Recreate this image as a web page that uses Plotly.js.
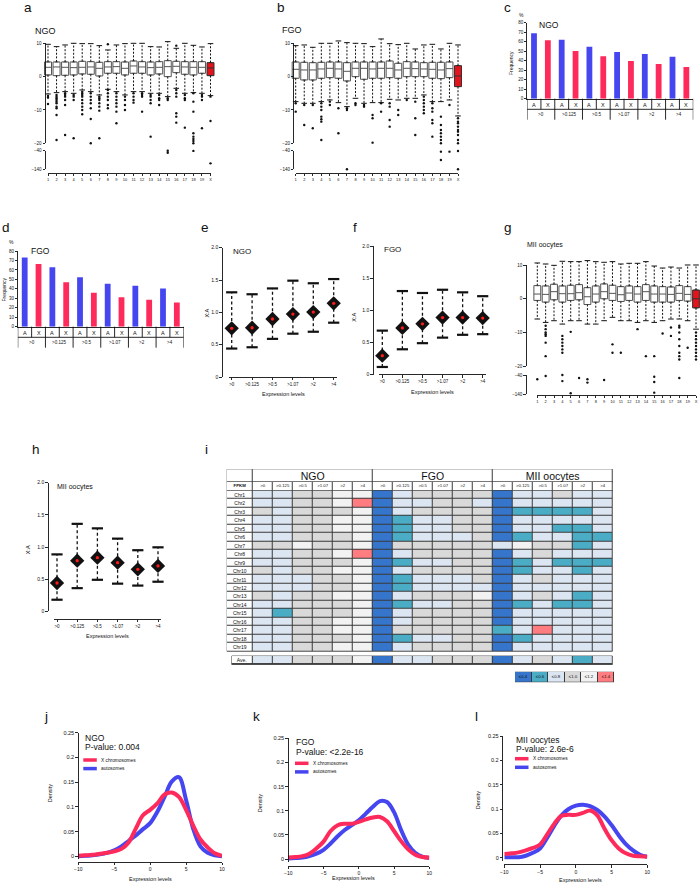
<!DOCTYPE html>
<html>
<head>
<meta charset="utf-8">
<script src="https://cdn.plot.ly/plotly-3.0.1.min.js"></script>
<style>
html,body{margin:0;padding:0;background:#ffffff;}
#chart{width:700px;height:883px;}
</style>
</head>
<body>
<div id="chart"></div>
<script>
// ================= DATA =================
const chromLabels = ['1','2','3','4','5','6','7','8','9','10','11','12','13','14','15','16','17','18','19','X'];
const chromPos = [1,2,3,4,5,6,7,8,9,10,11,12,13,14,15,16,17,18,19,20];

// (a) NGO box statistics
const ngoQ1  = [0.5,0.3,0.4,0.5,0.8,0.7,0.2,1.0,1.0,0.5,1.0,1.0,0.5,0.8,0.0,1.2,0.7,0.5,1.0,0.3];
const ngoMed = [2.8,2.9,2.8,2.7,2.8,2.9,2.5,2.9,3.0,2.5,3.2,2.9,2.7,2.8,3.0,3.1,2.9,2.8,2.8,2.6];
const ngoQ3  = [4.4,4.4,4.4,4.4,4.6,4.5,4.3,4.5,4.5,4.4,4.7,4.5,4.4,4.5,4.8,4.6,4.5,4.5,4.5,4.2];
const ngoLo  = [-5.2,-4.8,-4.5,-5.0,-4.0,-4.5,-5.5,-3.8,-4.5,-5.5,-4.5,-4.5,-5.0,-5.0,-6.0,-3.5,-5.0,-4.8,-5.0,-5.7];
const ngoHi  = [9.7,9.0,9.5,10.0,9.9,9.9,9.3,8.0,9.5,9.9,10.0,10.0,9.0,8.9,10.5,8.5,10.0,9.4,8.9,9.9];
const ngoOut = [[-5.8,-6.3,-8.2],[10.5,-5.5,-6,-6.5,-7,-7.5,-8,-9,-9.5,-11.5,-19],[-5,-5.5,-6,-7,-8.5,-17.5],[11,-5.5,-6,-7,-18.5],
  [-4.5,-5,-5.5,-6,-7,-8,-9,-10,-11.3],[-5,-6,-7,-8,-9.5,-12.7,-20],[-6,-6.5,-7,-8,-9,-10.2,-18.5],[9.7,-4,-5,-6,-7,-8.5,-9.5],
  [10.3,10.8,-5,-6,-7,-8,-9,-10.5,-14],[-6,-7,-8.5,-10],[14,-5,-6,-7,-7.8],[-5,-5.5,-6,-10.5],[10.2,10.7,-5.5,-6,-7,-8,-18],
  [-5.5,-6.5,-7,-8.5],[-6.5,-7],[9.3,10.3,-4,-5,-6,-11,-12,-13.8],[-5.5,-6.5,-7,-15.3],[-5,-7.5,-10.5,-17,-18,-18.7,-19.3,-20],
  [-5.5,-6,-7,-15.5],[-6,-13.3]];
const ngoOutLow = [[],[],[],[],[],[],[],[],[],[],[],[],[],[],[-40,-51],[],[],[-41],[],[-108]];

// (b) FGO box statistics
const fgoQ1  = [-0.5,-1.0,-1.0,-0.5,-0.3,-0.5,-1.3,0.0,-0.8,-0.5,-0.5,-0.3,-0.5,0.0,0.0,0.0,-0.5,-0.6,-0.3,-3.0];
const fgoMed = [2.2,2.0,2.0,2.3,2.5,2.3,1.6,2.5,2.5,2.3,2.5,2.5,2.0,2.5,2.4,2.3,2.2,2.0,2.4,0.2];
const fgoQ3  = [4.4,4.3,4.2,4.3,4.4,4.4,4.2,4.4,4.4,4.4,4.4,4.7,4.0,4.5,4.4,4.2,4.3,4.3,4.4,3.3];
const fgoLo  = [-7.5,-8.0,-8.0,-7.5,-7.0,-7.8,-9.0,-6.5,-8.0,-7.8,-7.8,-6.8,-7.0,-6.5,-6.5,-5.5,-7.5,-7.5,-7.0,-11.8];
const fgoHi  = [9.3,9.5,8.8,10.0,10.0,10.7,10.2,10.0,9.9,9.0,11.3,9.9,9.6,10.0,8.3,9.5,9.7,8.3,10.0,9.5];
const fgoOut = [[-8,-10.5],[-8.5,-14.5,-21],[-8.5,-15.5],[-8,-9,-10,-12,-12.8,-13.5,-19],[12.8,-7.5,-8.5],[-9.5,-17],[-9.5,-10,-21.3],
  [-8,-8.5],[-8.5,-9],[-11.5,-12.5,-19.8],[-8,-10.5],[-8,-9,-13,-15],[11.2,-10,-11.5],[-7],[-7.5,-12.5,-17.5],[-6,-7,-8,-9,-10,-11],
  [-8,-9.5,-10.5,-13,-14,-18],[-12,-14.5,-16,-17,-18,-19,-20,-20.5],[-8.5],[-12.5,-13.5,-14,-15,-16,-16.5,-17.5,-19,-20,-21]];
const fgoOutLow = [[],[],[],[],[],[],[-140],[],[],[],[],[],[],[],[],[],[],[-45,-90],[-45],[-42,-140]];

// (g) MII oocytes box statistics
const miiQ1  = [-0.5,-1.0,-0.3,-1.0,-0.5,-0.3,-1.7,-1.0,0.0,-0.5,-0.8,-0.5,-1.0,-0.5,-1.0,-1.0,-1.0,-0.5,-0.7,-2.7];
const miiMed = [1.4,1.3,2.1,1.5,1.5,1.8,0.6,1.4,2.1,1.6,1.2,1.7,1.4,2.1,1.4,1.4,1.3,1.6,1.3,0.0];
const miiQ3  = [3.9,3.8,4.3,3.8,4.0,4.2,3.3,3.8,4.4,4.0,3.6,3.8,3.6,4.2,3.8,3.6,3.5,3.9,3.6,2.6];
const miiLo  = [-6.0,-7.0,-6.5,-7.5,-6.5,-6.5,-7.5,-7.5,-6.5,-5.5,-6.5,-6.5,-7.0,-6.5,-7.0,-6.5,-6.0,-6.0,-6.5,-9.0];
const miiHi  = [10.6,10.3,9.9,11.1,11.0,11.0,11.3,11.0,10.8,11.0,10.3,10.5,10.5,11.0,9.7,9.1,9.4,9.1,10.0,10.0];
const miiOut = [[],[-8,-9,-10,-10.5,-11,-13,-17],[],[-11,-12,-13,-14,-15,-16],[11.7,-9.8],[12],[12,12.5,13.8],[11.8,12.2],[12.7],
  [-13.5,-16],[10.9,13.4,-16],[11.9,12.5],[11.6,-9],[-17],[-17],[-10.3],[-8.5,-11],[-8,-8.5,-10,-12,-14,-16,-17,-18],[12,-14.5],
  [11.3,-10,-11,-12,-13,-14,-15,-16,-17,-18]];
const miiOutLow = [[-62],[-45],[],[-40,-72],[-136],[-56],[-62,-80],[],[-66],[],[],[],[],[],[-49,-77,-133],[],[],[-56],[],[]];

// (c,d) frequency of expressed genes (%)
const exprLevels = ['>0','>0.125','>0.5','>1.07','>2','>4'];
const ngoFreqA = [68.8,62.1,54.7,49.1,47.0,44.2];
const ngoFreqX = [61.4,50.2,44.6,39.6,36.5,33.3];
const fgoFreqA = [73.0,62.7,52.2,45.5,43.3,40.5];
const fgoFreqX = [66.3,46.9,35.9,31.0,28.5,25.7];

// (e,f,h) X:A ratios
const ngoXA     = [0.753,0.762,0.897,0.974,1.005,1.14];
const ngoXALow  = [0.44,0.46,0.59,0.67,0.70,0.84];
const ngoXAHigh = [1.31,1.28,1.37,1.49,1.45,1.515];
const fgoXA     = [0.296,0.727,0.79,0.888,0.888,0.88];
const fgoXALow  = [0.12,0.395,0.49,0.576,0.62,0.63];
const fgoXAHigh = [0.685,1.30,1.27,1.32,1.28,1.22];
const miiXA     = [0.44,0.787,0.834,0.756,0.653,0.705];
const miiXALow  = [0.18,0.36,0.49,0.43,0.40,0.46];
const miiXAHigh = [0.885,1.36,1.29,1.13,0.95,0.995];

// (i) table: X:A ratio classes (1:<=0.4, 2:<=0.6, 3:<=0.8, 4:<=1.0, 5:<=1.2, 6:<=1.4)
const chrRows = ['Chr1','Chr2','Chr3','Chr4','Chr5','Chr6','Chr7','Chr8','Chr9','Chr10','Chr11','Chr12','Chr13','Chr14','Chr15','Chr16','Chr17','Chr18','Chr19'];
const tableGroups = ['NGO','FGO','MII oocytes'];
const tNGO = [[3,3,4,4,5,5],[3,3,4,4,5,6],[4,3,4,4,4,5],[3,3,4,4,5,5],[3,3,4,4,5,5],[3,3,4,4,4,5],[4,4,5,4,4,5],[3,3,4,4,5,6],
  [3,3,4,4,4,5],[4,3,4,4,5,5],[3,3,3,4,4,5],[3,3,3,4,4,5],[4,3,4,4,5,5],[3,3,4,4,4,5],[3,2,4,4,4,5],[3,3,4,4,5,5],[3,3,4,4,5,5],
  [3,3,4,4,4,5],[3,3,4,4,5,5]];
const tFGO = [[1,3,4,4,4,4],[1,3,3,4,4,3],[1,3,4,4,4,4],[1,2,3,3,4,4],[1,2,3,3,4,4],[1,2,3,3,3,4],[1,4,4,4,4,4],[1,3,4,4,4,4],
  [1,2,3,3,4,4],[1,3,4,4,4,4],[1,2,3,3,3,4],[1,2,3,3,3,3],[1,3,4,4,4,5],[1,2,3,3,4,4],[1,3,4,4,4,4],[1,3,4,4,4,4],[1,4,4,4,4,4],
  [1,2,3,3,4,4],[1,3,4,4,4,4]];
const tMII = [[1,3,3,4,3,3],[1,3,3,3,3,3],[1,2,2,2,2,3],[1,3,3,3,3,3],[1,3,3,2,2,3],[1,2,3,3,2,2],[3,5,4,4,2,3],[1,3,4,3,3,3],
  [1,2,3,2,2,2],[1,2,3,3,2,3],[1,3,4,3,3,3],[1,3,3,3,3,3],[1,3,4,3,2,3],[1,2,3,2,2,3],[1,3,3,3,3,3],[1,3,3,3,3,3],[2,3,6,3,3,3],
  [1,2,3,3,3,3],[1,3,3,3,3,3]];
const aveNGO = [3,3,4,4,4,5];
const aveFGO = [1,3,3,4,4,4];
const aveMII = [1,3,4,3,2,3];
const legendLabels = ['\u22640.4','\u22640.6','\u22640.8','\u22641.0','\u22641.2','\u22641.4'];
const legendCodes = [1,2,3,4,5,6];

// (j,k,l) density of expression levels
const densX = [-10,-9,-8,-7,-6,-5,-4,-3,-2,-1,0,1,2,3,4,5,6,7,8,9,10];
const ngoDensX = [0.001,0.002,0.003,0.005,0.007,0.010,0.015,0.028,0.056,0.083,0.094,0.107,0.125,0.129,0.120,0.094,0.062,0.034,0.018,0.006,0.001];
const ngoDensA = [0.000,0.001,0.002,0.004,0.007,0.012,0.020,0.031,0.042,0.055,0.067,0.090,0.120,0.151,0.160,0.114,0.055,0.020,0.007,0.002,0.000];
const fgoDensX = [0.003,0.004,0.006,0.011,0.022,0.036,0.058,0.070,0.073,0.073,0.077,0.082,0.086,0.087,0.078,0.058,0.037,0.020,0.009,0.004,0.003];
const fgoDensA = [0.001,0.002,0.003,0.006,0.011,0.019,0.032,0.047,0.060,0.070,0.080,0.094,0.108,0.120,0.118,0.097,0.060,0.030,0.013,0.005,0.002];
const miiDensX = [0.0075,0.009,0.011,0.015,0.020,0.027,0.048,0.070,0.086,0.088,0.088,0.092,0.097,0.087,0.060,0.036,0.019,0.009,0.004,0.003,0.002];
const miiDensA = [0.001,0.001,0.001,0.004,0.010,0.019,0.041,0.066,0.087,0.100,0.107,0.109,0.106,0.098,0.085,0.067,0.046,0.028,0.015,0.006,0.002];

// ================= LAYOUT HELPERS =================
const FONT = '"Liberation Sans", Arial, Helvetica, sans-serif';
const W = 700, H = 883;
const X = p => p / W;
const Y = p => 1 - p / H;
const INK = '#111111';
const BLUE = '#4646f0', RED = '#ff2a5c';

const layout = {width:W, height:H, margin:{l:0,r:0,t:0,b:0,pad:0}, paper_bgcolor:'#ffffff', plot_bgcolor:'rgba(0,0,0,0)',
  showlegend:false, hovermode:false, font:{family:FONT, color:INK, size:6}, annotations:[], shapes:[]};
const data = [];
let nx = 0, ny = 0;
function addX(o){ nx++; layout[nx===1?'xaxis':'xaxis'+nx] = Object.assign({showgrid:false, zeroline:false, fixedrange:true, automargin:false}, o); return nx===1?'x':'x'+nx; }
function addY(o){ ny++; layout[ny===1?'yaxis':'yaxis'+ny] = Object.assign({showgrid:false, zeroline:false, fixedrange:true, automargin:false}, o); return ny===1?'y':'y'+ny; }
function A(id){ return layout[id.replace(/^([xy])/, '$1axis')]; }
function axStyle(extra){ return Object.assign({showline:true, linecolor:INK, linewidth:0.9, ticks:'outside', ticklen:2.5, tickwidth:0.9, tickcolor:INK,
  tickfont:{family:FONT, size:4.5, color:INK}}, extra); }
function note(text, x, y, size, o){ layout.annotations.push(Object.assign({text:text, x:X(x), y:Y(y), xref:'paper', yref:'paper', showarrow:false,
  xanchor:'left', yanchor:'middle', font:{family:FONT, size:size, color:INK}}, o||{})); }

// ================= BOX PANELS (a, b, g) =================
function boxPanel(c){
  const s = (c.tickLast - c.tickFirst) / 19;
  const L = Math.min(c.yAxisX - 0.5, c.tickFirst - 0.55*s), R = Math.min(W, c.tickLast + 0.55*s);
  const sy = (c.pM20 - c.p10) / 30;
  const mx = addX({visible:false, domain:[X(L), X(R)], range:[1-(c.tickFirst-L)/s, 20+(R-c.tickLast)/s]});
  const my = addY({visible:false, domain:[Y(c.pM20), Y(c.p10 - 5*sy)], range:[-20, 15]});
  A(mx).anchor = my; A(my).anchor = mx;
  const dx = addX(axStyle({domain:[X(c.tickFirst), X(c.tickLast)], range:[1,20], tickmode:'array', tickvals:chromPos, ticktext:chromLabels,
    anchor:'free', position:Y(c.xLineY), tickfont:{family:FONT, size:4, color:INK}}));
  const dy = addY(axStyle({domain:[Y(c.pM20), Y(c.p10)], range:[-20,10], tickmode:'array', tickvals:[-20,-10,0,10], anchor:'free', position:X(c.yAxisX)}));
  const ly = addY(axStyle({domain:[Y(c.pM140), Y(c.pM40)], range:[-140,-40], tickmode:'array', tickvals:[-140,-40], anchor:'free', position:X(c.yAxisX)}));
  const n = 19;
  data.push({type:'box', xaxis:mx, yaxis:my, x:chromPos.slice(0,n), q1:c.q1.slice(0,n), median:c.med.slice(0,n), q3:c.q3.slice(0,n),
    lowerfence:c.q1.slice(0,n), upperfence:c.q3.slice(0,n), width:0.82, fillcolor:'#ffffff', line:{color:'#555555', width:1}, boxpoints:false, hoverinfo:'skip'});
  data.push({type:'box', xaxis:mx, yaxis:my, x:chromPos.slice(n), q1:c.q1.slice(n), median:c.med.slice(n), q3:c.q3.slice(n),
    lowerfence:c.q1.slice(n), upperfence:c.q3.slice(n), width:0.82, fillcolor:'#e3121b', line:{color:'#333333', width:1}, boxpoints:false, hoverinfo:'skip'});
  const wx = [], wy = [];
  chromPos.forEach((p,i)=>{ wx.push(p,p,null,p,p,null); wy.push(c.q3[i], c.hi[i], null, c.q1[i], c.lo[i], null); });
  data.push({type:'scatter', mode:'lines', xaxis:mx, yaxis:my, x:wx, y:wy, line:{color:INK, width:1, dash:'2px,1.6px'}, hoverinfo:'skip'});
  data.push({type:'scatter', mode:'markers', xaxis:mx, yaxis:my, x:chromPos.concat(chromPos), y:c.hi.concat(c.lo), cliponaxis:false,
    marker:{symbol:'line-ew-open', size:4, color:INK, line:{color:INK, width:1}}, hoverinfo:'skip'});
  const ox=[], oy=[], lx=[], lyv=[];
  c.out.forEach((arr,i)=>arr.forEach(v=>{ ox.push(chromPos[i]); oy.push(v); }));
  c.outLow.forEach((arr,i)=>arr.forEach(v=>{ lx.push(chromPos[i]); lyv.push(v); }));
  data.push({type:'scatter', mode:'markers', xaxis:dx, yaxis:dy, x:ox, y:oy, cliponaxis:false, marker:{symbol:'circle', size:2.4, color:INK}, hoverinfo:'skip'});
  data.push({type:'scatter', mode:'markers', xaxis:dx, yaxis:ly, x:lx, y:lyv, cliponaxis:false, marker:{symbol:'circle', size:2.4, color:INK}, hoverinfo:'skip'});
}
boxPanel({q1:ngoQ1, med:ngoMed, q3:ngoQ3, lo:ngoLo, hi:ngoHi, out:ngoOut, outLow:ngoOutLow,
  tickFirst:48, tickLast:210.5, yAxisX:45, xLineY:173, p10:43.3, pM20:143.3, pM40:150.7, pM140:169.3});
boxPanel({q1:fgoQ1, med:fgoMed, q3:fgoQ3, lo:fgoLo, hi:fgoHi, out:fgoOut, outLow:fgoOutLow,
  tickFirst:295.7, tickLast:458, yAxisX:293.3, xLineY:173, p10:43.3, pM20:143.3, pM40:150.7, pM140:169.3});
boxPanel({q1:miiQ1, med:miiMed, q3:miiQ3, lo:miiLo, hi:miiHi, out:miiOut, outLow:miiOutLow,
  tickFirst:537.3, tickLast:696, yAxisX:525.7, xLineY:395, p10:265, pM20:366.3, pM40:375, pM140:394});

// ================= BAR PANELS (c, d) =================
function barPanel(c){
  const L = c.bar0 - 0.5*c.step, R = c.bar0 + 11.5*c.step;
  const xa = addX(axStyle({domain:[X(L), X(R)], range:[-0.5, 11.5], showticklabels:false, ticks:''}));
  const ya = addY(axStyle({domain:[Y(c.p0), Y(c.p80)], range:[0,80], tickmode:'array', tickvals:[0,10,20,30,40,50,60,70,80], ticklen:2}));
  A(xa).anchor = ya; A(ya).anchor = xa;
  const xs=[], ys=[], cols=[], lab=[];
  exprLevels.forEach((g,i)=>{ xs.push(2*i, 2*i+1); ys.push(c.a[i], c.x[i]); cols.push(BLUE, RED); lab.push('A','X'); });
  data.push({type:'bar', xaxis:xa, yaxis:ya, x:xs, y:ys, width:0.42, marker:{color:cols, line:{width:0}}, hoverinfo:'skip'});
  const yA = c.p0 + 6.3, ySep = c.p0 + 10.6, yG = c.p0 + 16, yGSep = c.p0 + 21;
  lab.forEach((t,i)=> layout.annotations.push({text:t, x:xs[i], y:Y(yA), xref:xa, yref:'paper', showarrow:false, xanchor:'center', yanchor:'middle',
    font:{family:FONT, size:5.5, color:INK}}));
  for(let b=0;b<=12;b++){
    const xb = b - 0.5, isG = (b % 2 === 0);
    layout.shapes.push({type:'line', xref:xa, yref:'paper', x0:xb, x1:xb, y0:Y(c.p0), y1:Y(isG ? yGSep : ySep), line:{color:INK, width:0.9}});
  }
  layout.shapes.push({type:'line', xref:xa, yref:'paper', x0:-0.5, x1:11.5, y0:Y(ySep), y1:Y(ySep), line:{color:INK, width:0.9}});
  exprLevels.forEach((g,i)=> layout.annotations.push({text:g, x:2*i+0.5, y:Y(yG), xref:xa, yref:'paper', showarrow:false, xanchor:'center', yanchor:'middle',
    font:{family:FONT, size:4.5, color:INK}}));
}
barPanel({a:ngoFreqA, x:ngoFreqX, bar0:534, step:13.85, p0:98.7, p80:22.7});
barPanel({a:fgoFreqA, x:fgoFreqX, bar0:24.7, step:13.83, p0:326.7, p80:251});

// ================= X:A PANELS (e, f, h) =================
function xaPanel(c){
  const s = (c.t5 - c.t0) / 5, pad = 3;
  const xa = addX(axStyle({domain:[X(c.t0-pad), X(c.t5+pad)], range:[-pad/s, 5+pad/s], tickmode:'array', tickvals:[0,1,2,3,4,5], ticktext:exprLevels,
    anchor:'free', position:Y(c.xLineY)}));
  const ya = addY(axStyle({domain:[Y(c.p0), Y(c.p2)], range:[0,2], tickmode:'array', tickvals:[0,0.5,1,1.5,2], ticktext:['0','0.5','1.0','1.5','2.0'],
    anchor:'free', position:X(c.yAxisX), tickfont:{family:FONT, size:5, color:INK}}));
  const idx = [0,1,2,3,4,5];
  const lx=[], lyv=[];
  idx.forEach(i=>{ lx.push(i,i,null); lyv.push(c.lo[i], c.hi[i], null); });
  data.push({type:'scatter', mode:'lines', xaxis:xa, yaxis:ya, x:lx, y:lyv, line:{color:INK, width:1.3, dash:'3px,2.5px'}, hoverinfo:'skip'});
  data.push({type:'scatter', mode:'markers', xaxis:xa, yaxis:ya, x:idx.concat(idx), y:c.hi.concat(c.lo), cliponaxis:false,
    marker:{symbol:'line-ew-open', size:8, color:INK, line:{color:INK, width:2.2}}, hoverinfo:'skip'});
  data.push({type:'scatter', mode:'markers', xaxis:xa, yaxis:ya, x:idx, y:c.mean, cliponaxis:false, marker:{symbol:'diamond', size:11, color:INK}, hoverinfo:'skip'});
  data.push({type:'scatter', mode:'markers', xaxis:xa, yaxis:ya, x:idx, y:c.mean, cliponaxis:false, marker:{symbol:'circle', size:3.3, color:'#ff1a1a'}, hoverinfo:'skip'});
}
xaPanel({mean:ngoXA, lo:ngoXALow, hi:ngoXAHigh, t0:231.7, t5:333.7, xLineY:376.7, yAxisX:221.7, p0:377, p2:247.7});
xaPanel({mean:fgoXA, lo:fgoXALow, hi:fgoXAHigh, t0:382.3, t5:482.7, xLineY:374.5, yAxisX:372.7, p0:374.7, p2:246});
xaPanel({mean:miiXA, lo:miiXALow, hi:miiXAHigh, t0:57, t5:158, xLineY:619, yAxisX:47.7, p0:611.3, p2:482.7});

// ================= DENSITY PANELS (j, k, l) =================
function densPanel(c){
  const sy = (c.p0 - c.p25) / 0.25, padPx = 3;
  const xa = addX(axStyle({domain:[X(c.xL), X(c.xR)], range:[-10,10], tickmode:'array', tickvals:[-10,-5,0,5,10], anchor:'free', position:Y(c.xLineY),
    tickfont:{family:FONT, size:5, color:INK}}));
  const ya = addY(axStyle({domain:[Y(c.p0+padPx), Y(c.p25)], range:[-padPx/sy, 0.25], tickmode:'array', tickvals:[0,0.05,0.1,0.15,0.2,0.25],
    ticktext:['0','0.05','0.1','0.15','0.2','0.25'], anchor:'free', position:X(c.yAxisX), tickfont:{family:FONT, size:5.5, color:INK}}));
  data.push({type:'scatter', mode:'lines', xaxis:xa, yaxis:ya, x:densX, y:c.auto, line:{color:BLUE, width:4, shape:'spline', smoothing:1}, hoverinfo:'skip'});
  data.push({type:'scatter', mode:'lines', xaxis:xa, yaxis:ya, x:densX, y:c.xch, line:{color:RED, width:4, shape:'spline', smoothing:1}, hoverinfo:'skip'});
  layout.shapes.push({type:'line', xref:'paper', yref:'paper', x0:X(c.legX), x1:X(c.legX+13.5), y0:Y(c.legY), y1:Y(c.legY), line:{color:RED, width:3.5}});
  layout.shapes.push({type:'line', xref:'paper', yref:'paper', x0:X(c.legX), x1:X(c.legX+13.5), y0:Y(c.legY+8.6), y1:Y(c.legY+8.6), line:{color:BLUE, width:3.5}});
  note('X chromosomes', c.legX+16, c.legY, 4.8);
  note('autosomes', c.legX+16, c.legY+8.6, 4.8);
}
densPanel({xch:ngoDensX, auto:ngoDensA, yAxisX:77.7, p0:856.3, p25:732.7, xL:78.3, xR:222, xLineY:861.7, legX:83.3, legY:760});
densPanel({xch:fgoDensX, auto:fgoDensA, yAxisX:287.7, p0:859, p25:738.3, xL:288.3, xR:429.3, xLineY:866, legX:295, legY:763.3});
densPanel({xch:miiDensX, auto:miiDensA, yAxisX:502.3, p0:857.7, p25:736, xL:504.3, xR:647.3, xLineY:864.3, legX:515, legY:758.7});

// ================= TABLE (i) =================
const TBL_COLORS = ['#ffffff','#3575cb','#4bacc6','#dce6f2','#d9d9d9','#f2f2f2','#ff7c80'];
const cs = [];
TBL_COLORS.forEach((col,k)=>{ cs.push([k/7, col]); cs.push([(k+1)/7, col]); });
const tx = addX({visible:false, domain:[X(226.7), X(612.7)], range:[-1.284, 18]});
const ty = addY({visible:false, domain:[Y(664.9), Y(468.9)], range:[21.65, -1.55]});
A(tx).anchor = ty; A(ty).anchor = tx;
const colEdges = [-1.284]; for(let k=0;k<=18;k++) colEdges.push(k);
const hmBase = {type:'heatmap', xaxis:tx, yaxis:ty, colorscale:cs, zmin:-0.5, zmax:6.5, showscale:false, xgap:1, ygap:1, hoverinfo:'skip', texttemplate:'%{text}'};
function border(x0,x1,y0,y1,xr,yr){ layout.shapes.push({type:'rect', xref:xr, yref:yr, x0:x0, x1:x1, y0:y0, y1:y1, layer:'below', fillcolor:'#3a3a3a', line:{color:'#3a3a3a', width:0.8}}); }
// group header
data.push(Object.assign({}, hmBase, {x:[-1.284,0,6,12,18], y:[-1.503,0], z:[[0,0,0,0]], text:[[''].concat(tableGroups)],
  textfont:{family:FONT, size:10.5, color:INK}}));
border(-1.284, 18, -1.503, 0, tx, ty);
// FPKM row
const fpkmText = ['<b>FPKM</b>'].concat(exprLevels, exprLevels, exprLevels);
data.push(Object.assign({}, hmBase, {x:colEdges, y:[0,1.03], z:[fpkmText.map(()=>0)], text:[fpkmText], textfont:{family:FONT, size:4.3, color:INK}}));
border(-1.284, 18, 0, 1.03, tx, ty);
// body
const bodyZ = chrRows.map((r,i)=>[0].concat(tNGO[i], tFGO[i], tMII[i]));
const bodyT = chrRows.map((r,i)=>[r].concat(new Array(18).fill('')));
const rowEdges = chrRows.map((r,i)=>1.03+i); rowEdges.push(1.03+chrRows.length);
data.push(Object.assign({}, hmBase, {x:colEdges, y:rowEdges, z:bodyZ, text:bodyT, textfont:{family:FONT, size:5, color:INK}}));
border(-1.284, 18, 1.03, 1.03+chrRows.length, tx, ty);
// average row
const aveEdges = [-1.03]; for(let k=0;k<=18;k++) aveEdges.push(k);
data.push(Object.assign({}, hmBase, {x:aveEdges, y:[20.6,21.6], z:[[0].concat(aveNGO, aveFGO, aveMII)], text:[['Ave.'].concat(new Array(18).fill(''))],
  textfont:{family:FONT, size:5, color:INK}}));
border(-1.03, 18, 20.6, 21.6, tx, ty);
// colour key
const kx = addX({visible:false, domain:[X(515), X(614)], range:[-0.5, 5.5]});
const ky = addY({visible:false, domain:[Y(682.3), Y(671.7)], range:[-0.5, 0.5]});
A(kx).anchor = ky; A(ky).anchor = kx;
data.push(Object.assign({}, hmBase, {xaxis:kx, yaxis:ky, x:[0,1,2,3,4,5], y:[0], z:[legendCodes], text:[legendLabels], textfont:{family:FONT, size:4.3, color:INK}}));
border(-0.5, 5.5, -0.5, 0.5, kx, ky);

// ================= TEXT =================
[['a',28,7],['b',281,7],['c',507,7],['d',6,227],['e',205,227],['f',354.7,227],['g',508,227],['h',35.5,449],['i',206.7,449],
 ['j',46,716.7],['k',256.7,716.7],['l',476,716.5]].forEach(p=>note(p[0], p[1], p[2], 13.5, {xanchor:'center'}));
note('NGO', 32.7, 30.7, 9);
note('FGO', 280, 30, 9);
note('NGO', 536.5, 25, 8.5);
note('FGO', 29.3, 251, 8.5);
note('NGO', 230.7, 251.7, 8);
note('FGO', 381.7, 250, 8);
note('MII oocytes', 525, 245, 7);
note('MII oocytes', 55, 487.3, 7);
note('%', 521, 15, 5, {xanchor:'center'});
note('%', 11.7, 242.3, 5, {xanchor:'center'});
note('Frequency', 511.7, 63.3, 5, {xanchor:'center', textangle:-90});
note('Frequency', 3.5, 290, 5, {xanchor:'center', textangle:-90});
note('X:A', 207.3, 313.3, 5.5, {xanchor:'center', textangle:-90});
note('X:A', 354, 316.7, 5.5, {xanchor:'center', textangle:-90});
note('X:A', 28.3, 550, 5.5, {xanchor:'center', textangle:-90});
note('Expression levels', 283, 394, 5.5, {xanchor:'center'});
note('Expression levels', 432.5, 391.7, 5.5, {xanchor:'center'});
note('Expression levels', 107, 636, 5.5, {xanchor:'center'});
note('Expression levels', 150.5, 879, 5.5, {xanchor:'center'});
note('Expression levels', 353.3, 878.3, 5.5, {xanchor:'center'});
note('Expression levels', 580, 880, 5.5, {xanchor:'center'});
note('Density', 50, 793.3, 5.5, {xanchor:'center', textangle:-90});
note('Density', 260, 803.3, 5.5, {xanchor:'center', textangle:-90});
note('Density', 478.3, 800, 5.5, {xanchor:'center', textangle:-90});
note('NGO', 83.3, 737.7, 8.5);
note('P-value: 0.004', 83.3, 747.3, 8.5);
note('FGO', 294.3, 741.7, 8.5);
note('P-value: <2.2e-16', 294.3, 751.7, 8.5);
note('MII oocytes', 514.3, 740, 8.5);
note('P-value: 2.6e-6', 514.3, 749, 8.5);

Plotly.newPlot('chart', data, layout, {displayModeBar:false, staticPlot:true});
</script>
</body>
</html>
